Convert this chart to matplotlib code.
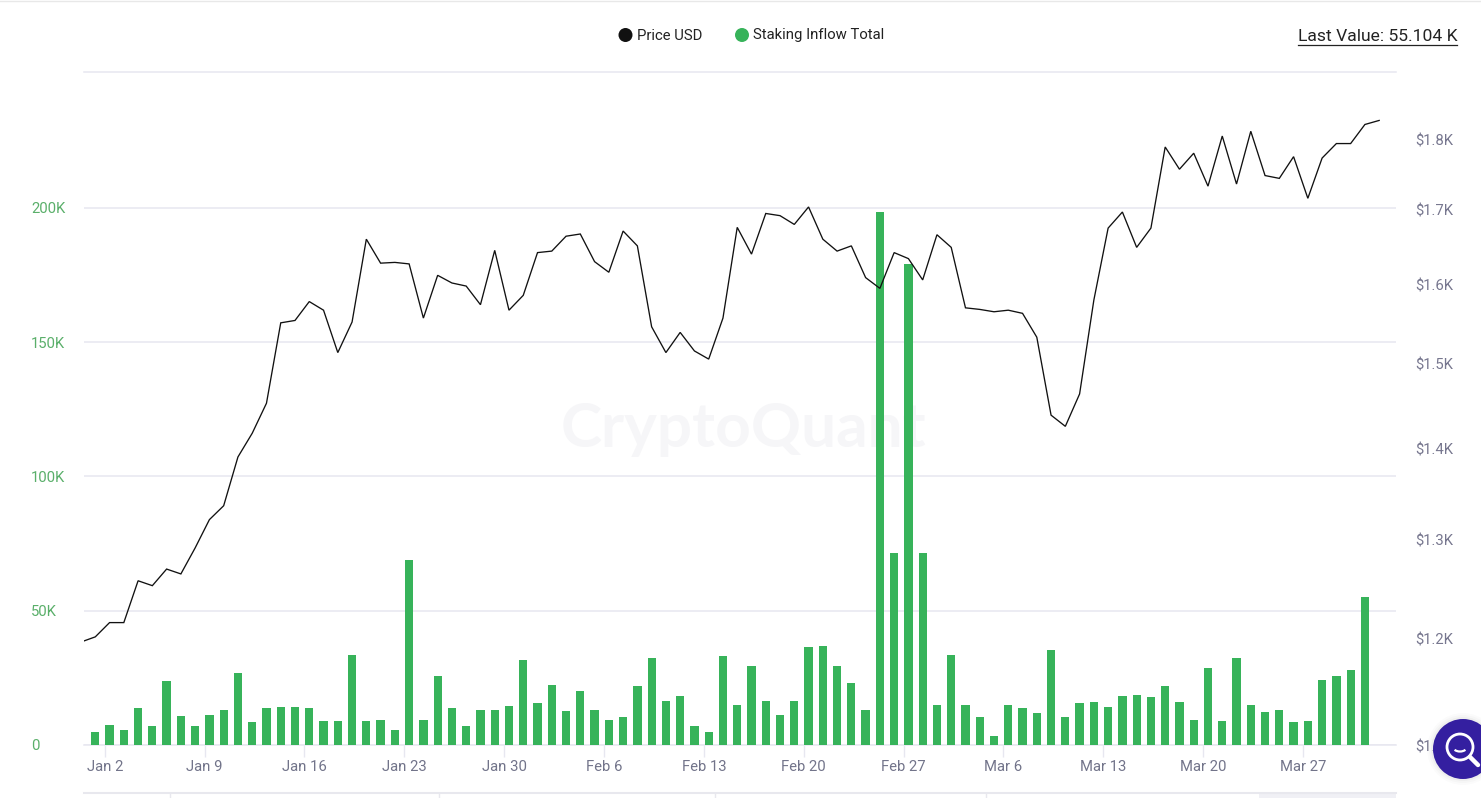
import matplotlib
matplotlib.use("Agg")
import matplotlib.pyplot as plt
import matplotlib.dates as mdates
import matplotlib.patches as mp
import matplotlib.transforms as mtrans
import pandas as pd
from matplotlib.ticker import FixedLocator, FixedFormatter, NullLocator

plt.rcParams['font.family'] = ['Roboto', 'DejaVu Sans']

staking_inflow_k = [
    4.7, 7.6, 5.6, 13.7, 7.1, 23.8, 10.8, 7.1, 11.2, 13.2,
    26.7, 8.4, 13.7, 14.2, 14.2, 13.7, 8.9, 8.9, 33.5, 8.9,
    9.4, 5.6, 68.9, 9.3, 25.7, 13.7, 7.1, 13.0, 13.0, 14.5,
    31.7, 15.5, 22.3, 12.7, 20.1, 13.0, 9.3, 10.3, 22.0, 32.3,
    16.4, 18.2, 7.1, 4.7, 33.1, 14.9, 29.4, 16.4, 11.3, 16.4,
    36.4, 36.9, 29.4, 23.0, 13.0, 198.5, 71.4, 179.0, 71.4, 14.9,
    33.5, 14.9, 10.3, 3.4, 14.9, 13.7, 11.8, 35.4, 10.3, 15.5,
    15.9, 14.2, 18.2, 18.6, 17.8, 22.0, 15.9, 9.3, 28.6, 8.9,
    32.3, 15.0, 12.2, 13.2, 8.4, 8.9, 24.2, 25.7, 27.9, 55.104,
]
price_usd = [
    1196, 1201, 1215, 1215, 1257, 1252, 1269, 1264, 1291, 1321, 1336,
    1390, 1417, 1452, 1550, 1553, 1577, 1566, 1513, 1551, 1659,
    1627, 1628, 1626, 1556, 1611, 1601, 1597, 1573, 1644, 1566,
    1585, 1641, 1643, 1663, 1666, 1629, 1615, 1670, 1650, 1545,
    1513, 1538, 1515, 1505, 1556, 1675, 1639, 1694, 1691, 1679,
    1703, 1659, 1643, 1650, 1608, 1594, 1641, 1633, 1605, 1665,
    1648, 1569, 1567, 1564, 1566, 1562, 1532, 1438, 1425, 1463,
    1579, 1674, 1696, 1648, 1674, 1788, 1756, 1779, 1732, 1804,
    1735, 1811, 1747, 1743, 1774, 1715, 1772, 1793, 1793, 1821, 1827,
]
left_ticks = [0, 50000, 100000, 150000, 200000]
left_labels = ['0', '50K', '100K', '150K', '200K']
right_ticks = [1100, 1200, 1300, 1400, 1500, 1600, 1700, 1800]
right_labels = ['$1.1K', '$1.2K', '$1.3K', '$1.4K', '$1.5K', '$1.6K', '$1.7K', '$1.8K']
x_tick_dates = pd.date_range('2023-01-02', '2023-03-27', freq='7D')
x_tick_labels = [f"{d.strftime('%b')} {d.day}" for d in x_tick_dates]

bar_dates = pd.date_range('2023-01-01 08:10', periods=len(staking_inflow_k), freq='D')
line_dates = pd.date_range('2022-12-31 08:10', periods=len(price_usd), freq='D')

W, H = 1481, 798
GRID = '#e7e7f0'
FS = 10.7
fig = plt.figure(figsize=(W / 100, H / 100), dpi=100, facecolor='white')
ax = fig.add_axes([84 / W, 1 - 745 / H, (1396 - 84) / W, (745 - 72) / H])
ax.patch.set_visible(False)

ax.bar(bar_dates, [v * 1000 for v in staking_inflow_k], width=0.58,
       color='#37b35a', edgecolor='none', zorder=3)
ax.set_ylim(0, 250650)
ax.set_xlim(mdates.date2num(pd.Timestamp('2023-01-02')) - 1.451,
            mdates.date2num(pd.Timestamp('2023-01-02')) + 90.52)
ax.yaxis.set_major_locator(FixedLocator(left_ticks))
ax.yaxis.set_major_formatter(FixedFormatter(left_labels))
ax.tick_params(axis='y', length=0, pad=38.2, labelsize=FS, labelcolor='#5aaf6a')
ax.xaxis.set_major_locator(FixedLocator(mdates.date2num(x_tick_dates)))
ax.xaxis.set_major_formatter(FixedFormatter(x_tick_labels))
ax.tick_params(axis='x', length=8.6, width=1, color=GRID, pad=2, labelsize=FS, labelcolor='#72748a')
ax.grid(axis='y', color=GRID, lw=1.1)
ax.set_axisbelow(True)
for s in ['left', 'right']:
    ax.spines[s].set_visible(False)
for s in ['top', 'bottom']:
    ax.spines[s].set_color(GRID)
    ax.spines[s].set_linewidth(1.1)

ax2 = ax.twinx()
ax2.patch.set_visible(False)
ax2.set_zorder(ax.get_zorder() + 1)
ax2.plot(line_dates, price_usd, color='#111111', lw=0.95, solid_joinstyle='miter', zorder=4)
ax2.set_yscale('log')
ax2.set_ylim(1100, 1100 * 2.7182818 ** (673 / 1231))
ax2.yaxis.set_major_locator(FixedLocator(right_ticks))
ax2.yaxis.set_major_formatter(FixedFormatter(right_labels))
ax2.yaxis.set_minor_locator(NullLocator())
ax2.tick_params(axis='y', which='both', length=0, pad=13.7, labelsize=FS, labelcolor='#77778f')
for s in ax2.spines.values():
    s.set_visible(False)

fig.canvas.draw()
down = mtrans.ScaledTranslation(0, -1 / 100, fig.dpi_scale_trans)
for t in ax.get_yticklabels():
    t.set_horizontalalignment('left')
for t in ax2.get_yticklabels():
    t.set_transform(t.get_transform() + down)

ax.text(561 / W, 1 - 447 / H, 'CryptoQuant', transform=fig.transFigure, fontsize=44.7,
        family='Lato', fontweight='bold', color='#f6f6f8', ha='left', va='baseline', zorder=0.1)

# page chrome drawn in pixel space
ov = fig.add_axes([0, 0, 1, 1], zorder=10)
ov.set_xlim(0, W)
ov.set_ylim(H, 0)
ov.axis('off')
ov.patch.set_visible(False)
ov.plot([0, W], [1, 1], color='#e8e8e8', lw=1)
ov.add_patch(mp.Circle((625.5, 35), 7, color='#111111', lw=0))
ov.add_patch(mp.Circle((742, 35), 7, color='#37b35a', lw=0))
ov.text(637, 35.5, 'Price USD', fontsize=FS, color='#222222', va='center', ha='left')
ov.text(753, 35.5, 'Staking Inflow Total', fontsize=FS, color='#222222', va='center', ha='left')
ov.text(1298, 36.5, 'Last Value: 55.104 K', fontsize=12.6, color='#222222', va='center', ha='left')
ov.plot([1298, 1457], [45, 45], color='#222222', lw=0.9)

# range navigator strip at the bottom edge
ov.plot([84, 1396], [792.5, 792.5], color='#e8e8ee', lw=1.5)
for nx in [170, 439, 715, 986]:
    ov.plot([nx, nx], [793, 798], color='#e8e8ee', lw=1)
ov.add_patch(mp.Rectangle((1259, 793), 137, 5, color='#f0f0f5', lw=0))

# search button
for r, a in [(36, 0.015), (34, 0.02), (32, 0.03)]:
    ov.add_patch(mp.Circle((1463, 749), r, color='#000000', alpha=a, lw=0))
ov.add_patch(mp.Circle((1463, 749), 30, color='#341fa0', lw=0))
ov.add_patch(mp.Circle((1460, 747), 13, fill=False, ec='white', lw=2))
ov.plot([1470, 1478], [757, 765], color='white', lw=3.2, solid_capstyle='round')
ov.add_patch(mp.Arc((1460, 746), 15, 11, theta1=35, theta2=145, ec='white', lw=1.6))

fig.savefig('out.png', dpi=100, facecolor='white')
